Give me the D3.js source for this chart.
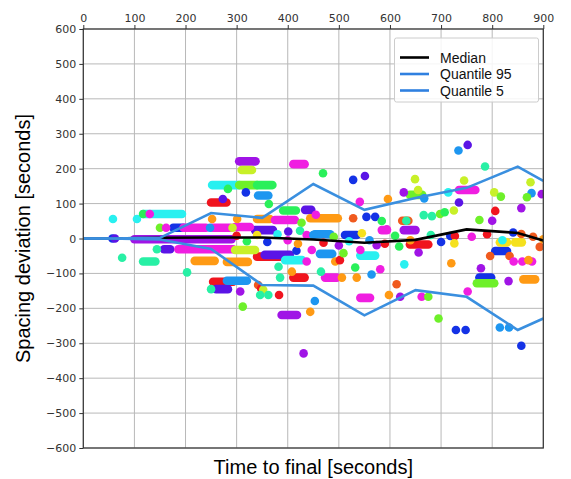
<!DOCTYPE html>
<html>
<head>
<meta charset="utf-8">
<script src="https://cdn.jsdelivr.net/npm/d3@7"></script>
<style>
  body { margin: 0; background: #fff; }
  svg { display: block; }
</style>
</head>
<body>
<div id="chart"></div>
<script>
// tick labels
const xTicks = [0, 100, 200, 300, 400, 500, 600, 700, 800, 900];
const yTicks = [-600, -500, -400, -300, -200, -100, 0, 100, 200, 300, 400, 500, 600];

// statistics lines
const binX   = [0, 50, 150, 250, 350, 450, 550, 650, 750, 850, 900];
const median = [0, 0, 2, 3, 3, -3, -12, -4, 26, 16, -6];
const q95    = [0, 0, 2, 73, 59, 156, 82, 116, 145, 206, 165];
const q5     = [0, 0, -3, -30, -133, -135, -220, -148, -167, -262, -229];

// runs of consecutive samples: [xStart, xEnd, y, colour]
const streaks = [
  [100, 290, -2, "p"],
  [117, 193, 70, "c"], [176, 196, 31, "b"], [196, 240, 31, "m"], [252, 287, 31, "m"],
  [250, 280, 103, "r"], [252, 305, 153, "c"], [305, 340, 153, "l"], [340, 370, 153, "g"],
  [305, 337, 221, "p"], [310, 330, 196, "ly"], [342, 362, 123, "a"], [340, 365, 56, "o"],
  [391, 416, 80, "g"], [411, 433, 213, "m"], [434, 446, 82, "v"], [444, 498, 58, "o"],
  [375, 414, 53, "m"], [584, 594, 24, "m"], [336, 371, 24, "v"], [297, 326, 33, "m"],
  [453, 483, 12, "a"], [512, 535, 10, "b"],
  [639, 663, 125, "l"], [735, 767, 139, "m"], [624, 636, 51, "ro"], [627, 650, 24, "p"],
  [117, 141, -66, "s"], [158, 170, -31, "v"], [186, 293, -31, "m"], [218, 257, -64, "o"],
  [281, 322, -67, "o"], [254, 293, -124, "r"], [260, 283, -145, "v"], [281, 320, -121, "a"],
  [340, 395, -52, "r"], [355, 404, -47, "v"], [395, 428, -62, "c"], [297, 336, -33, "ly"],
  [411, 433, -112, "r"], [463, 487, -44, "a"], [473, 496, -112, "m"], [542, 571, -49, "c"],
  [388, 418, -219, "p"], [542, 561, -170, "m"],
  [639, 675, -17, "r"], [775, 798, -112, "b"], [770, 804, -128, "l"], [806, 829, -36, "b"],
  [815, 829, -11, "y"], [845, 858, -11, "y"], [861, 884, -117, "o"]
];

// single samples: [x, y, colour]
const dots = [
  [57, 0, "b"], [62, 0, "v"], [58, 56, "c"], [105, 56, "c"], [117, 70, "g"], [130, 70, "m"],
  [150, 31, "l"], [162, 31, "m"], [248, 31, "a"], [292, 31, "ly"],
  [273, 113, "v"], [283, 142, "g"], [318, 132, "b"], [363, 99, "g"],
  [252, 56, "o"], [301, 56, "o"], [469, 187, "g"], [528, 168, "b"], [551, 179, "v"],
  [541, 105, "m"], [596, 113, "o"], [455, 68, "m"], [528, 58, "ro"], [554, 62, "b"],
  [571, 62, "b"], [584, 50, "g"], [427, 45, "l"], [424, 22, "s"], [401, 20, "v"], [437, 10, "m"],
  [734, 252, "a"], [752, 268, "v"], [786, 206, "s"], [649, 170, "ly"], [745, 166, "ly"],
  [627, 132, "p"], [655, 139, "ly"], [667, 115, "a"], [714, 132, "c"], [735, 103, "v"],
  [804, 132, "ly"], [817, 120, "l"], [875, 161, "ly"], [877, 130, "a"], [897, 127, "p"],
  [868, 118, "l"], [857, 87, "p"], [806, 79, "r"], [800, 51, "p"], [775, 53, "l"],
  [666, 67, "s"], [682, 64, "s"], [698, 70, "l"], [707, 75, "g"], [725, 80, "ly"],
  [632, 51, "s"], [594, 26, "m"], [718, 7, "b"], [727, 7, "r"], [841, 17, "b"], [857, 13, "ro"],
  [76, -55, "s"], [144, -31, "s"], [203, -97, "s"], [250, -145, "s"], [342, -133, "ro"],
  [348, -143, "r"], [352, -147, "ly"], [307, -152, "p"], [312, -195, "l"], [346, -162, "s"],
  [362, -162, "s"], [383, -162, "r"], [417, -35, "b"], [382, -81, "s"], [385, -112, "s"],
  [408, -95, "o"], [437, -66, "m"], [447, -33, "m"], [493, -66, "o"], [502, -62, "r"],
  [509, -42, "l"], [465, -95, "s"], [506, -112, "o"], [535, -112, "o"], [542, -33, "m"],
  [532, -83, "g"], [564, -103, "a"], [581, -88, "m"], [574, -19, "p"], [453, -179, "a"],
  [444, -210, "o"], [431, -329, "p"],
  [618, -23, "g"], [656, -40, "p"], [628, -74, "c"], [613, -131, "ro"], [598, -162, "o"],
  [620, -167, "p"], [662, -167, "m"], [675, -167, "l"], [695, -229, "l"], [726, -14, "y"],
  [720, -71, "o"], [778, -85, "p"], [752, -152, "m"], [832, -122, "p"], [796, -50, "ro"],
  [834, -50, "ro"], [842, -66, "m"], [859, -66, "m"], [878, -66, "m"], [871, -62, "o"],
  [893, -24, "ro"], [815, -255, "a"], [833, -255, "a"], [857, -307, "b"], [729, -262, "b"],
  [748, -262, "b"],
  [300, 8, "r"], [320, -8, "g"], [340, 10, "y"], [360, -10, "b"], [380, 12, "c"], [400, -5, "m"],
  [420, -15, "o"], [450, 10, "a"], [470, -12, "r"], [490, 5, "l"], [500, -20, "p"], [520, -8, "c"],
  [545, 15, "y"], [560, -5, "a"], [590, -15, "r"], [610, 8, "g"], [640, -5, "o"], [680, 10, "s"],
  [700, -10, "b"], [760, 5, "m"], [790, 12, "r"], [820, -5, "c"], [880, 5, "ro"], [900, -2, "o"]
];

const colourKeys = ["r", "ro", "o", "y", "ly", "l", "g", "s", "c", "a", "b", "v", "p", "m"];
const colourValues = ["#f0141e", "#f05a1e", "#ff9a14", "#f5e11e", "#c8f028", "#6ef02a", "#2af05a",
                      "#28f0a5", "#28f0f0", "#1e96f0", "#1432e6", "#5a14e6", "#a014e6", "#f01ee1"];

const W = 571, H = 479;
const pLeft = 83.3, pRight = 543.3, pTop = 29, pBottom = 448;

const x = d3.scaleLinear().domain([0, 900]).range([pLeft, pRight]);
const y = d3.scaleLinear().domain([-600, 600]).range([pBottom, pTop]);
const colour = d3.scaleOrdinal().domain(colourKeys).range(colourValues);

const svg = d3.select("#chart").append("svg")
  .attr("width", W).attr("height", H);

// grid
svg.append("g").selectAll("line").data(xTicks).enter().append("line")
  .attr("x1", d => x(d)).attr("x2", d => x(d)).attr("y1", pTop).attr("y2", pBottom)
  .attr("stroke", "#b8b8b8").attr("stroke-width", 1);
svg.append("g").selectAll("line").data(yTicks).enter().append("line")
  .attr("x1", pLeft).attr("x2", pRight).attr("y1", d => y(d)).attr("y2", d => y(d))
  .attr("stroke", "#b8b8b8").attr("stroke-width", 1);

svg.append("clipPath").attr("id", "plot-clip").append("rect")
  .attr("x", pLeft).attr("y", pTop).attr("width", pRight - pLeft).attr("height", pBottom - pTop);

const plot = svg.append("g").attr("clip-path", "url(#plot-clip)");

plot.selectAll("line.streak").data(streaks).enter().append("line")
  .attr("class", "streak")
  .attr("x1", d => x(d[0])).attr("x2", d => x(d[1]))
  .attr("y1", d => y(d[2])).attr("y2", d => y(d[2]))
  .attr("stroke", d => colour(d[3])).attr("stroke-width", 8.6)
  .attr("stroke-linecap", "round");

plot.selectAll("circle").data(dots).enter().append("circle")
  .attr("cx", d => x(d[0])).attr("cy", d => y(d[1])).attr("r", 4.3)
  .attr("fill", d => colour(d[2]));

const line = d3.line().x((d, i) => x(binX[i])).y(d => y(d));
const blue = "#3a8fdf";
plot.append("path").datum(median).attr("d", line)
  .attr("fill", "none").attr("stroke", "#000").attr("stroke-width", 2.6);
plot.append("path").datum(q95).attr("d", line)
  .attr("fill", "none").attr("stroke", blue).attr("stroke-width", 2.6);
plot.append("path").datum(q5).attr("d", line)
  .attr("fill", "none").attr("stroke", blue).attr("stroke-width", 2.6);

// axes
const xAxis = d3.axisTop(x).tickValues(xTicks).tickSize(4).tickPadding(3);
const yAxis = d3.axisLeft(y).tickValues(yTicks).tickSize(4).tickPadding(3);

const gx = svg.append("g").attr("transform", `translate(0,${pTop})`).call(xAxis);
const gy = svg.append("g").attr("transform", `translate(${pLeft},0)`).call(yAxis);
[gx, gy].forEach(g => {
  g.select(".domain").remove();
  g.selectAll("line").attr("stroke", "#333");
  g.selectAll("text").attr("fill", "#333")
    .style("font-family", "'DejaVu Sans', sans-serif").style("font-size", "11px");
});

svg.append("rect")
  .attr("x", pLeft).attr("y", pTop).attr("width", pRight - pLeft).attr("height", pBottom - pTop)
  .attr("fill", "none").attr("stroke", "#333").attr("stroke-width", 1.2);

// labels
svg.append("text")
  .attr("x", (pLeft + pRight) / 2).attr("y", 474)
  .attr("text-anchor", "middle")
  .style("font-family", "'Liberation Sans', Arial, sans-serif").style("font-size", "20px")
  .text("Time to final [seconds]");
svg.append("text")
  .attr("transform", `translate(30,${(pTop + pBottom) / 2}) rotate(-90)`)
  .attr("text-anchor", "middle")
  .style("font-family", "'Liberation Sans', Arial, sans-serif").style("font-size", "20px")
  .text("Spacing deviation [seconds]");

// legend
const legendItems = ["Median", "Quantile 95", "Quantile 5"];
const legendColours = ["#000", "#2f80e0", "#2f80e0"];
const lg = svg.append("g");
lg.append("rect").attr("x", 394.5).attr("y", 38).attr("width", 144).attr("height", 64)
  .attr("rx", 2).attr("fill", "#fff").attr("fill-opacity", 0.85)
  .attr("stroke", "#cccccc").attr("stroke-width", 1);
legendItems.forEach((t, i) => {
  const yy = 57.5 + i * 16.5;
  lg.append("line").attr("x1", 400).attr("x2", 429).attr("y1", yy).attr("y2", yy)
    .attr("stroke", legendColours[i]).attr("stroke-width", 2.6);
  lg.append("text").attr("x", 440).attr("y", yy + 5)
    .style("font-family", "'Liberation Sans', Arial, sans-serif").style("font-size", "14px")
    .attr("fill", "#111").text(t);
});
</script>
</body>
</html>
